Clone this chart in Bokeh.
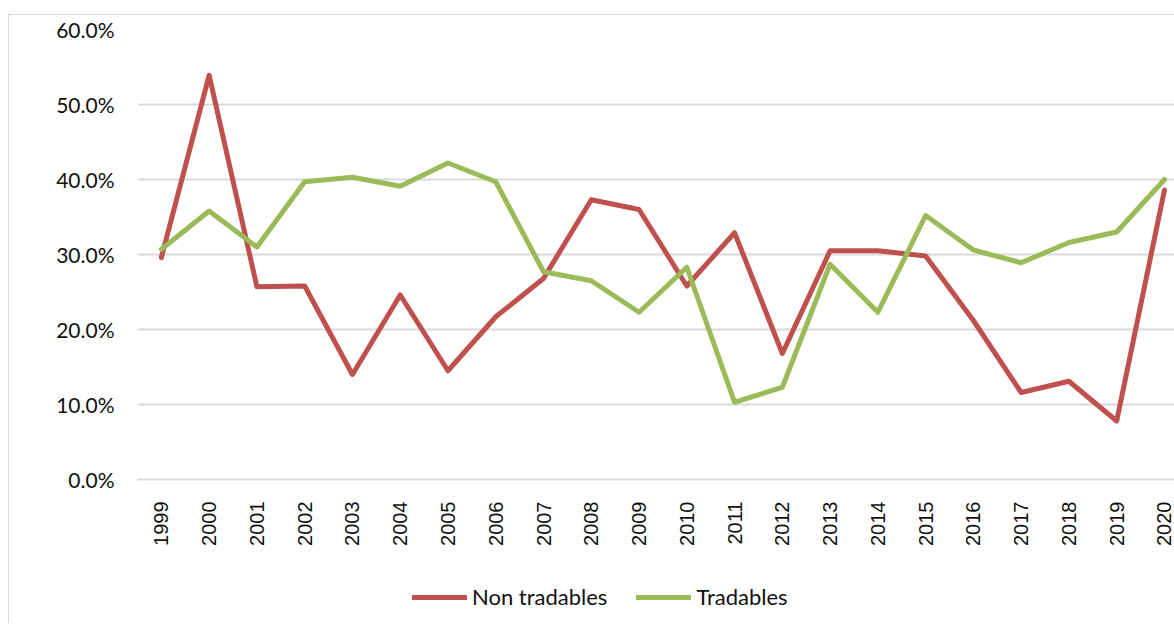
import math
from bokeh.plotting import figure
from bokeh.layouts import column
from bokeh.models import Range1d, FixedTicker, PrintfTickFormatter, Legend, LegendItem
from bokeh.embed import file_html
from bokeh.resources import INLINE

years = list(range(1999, 2021))
non_tradables = [29.6, 53.9, 25.7, 25.8, 14.0, 24.6, 14.5, 21.7, 26.8, 37.3, 36.0, 25.8,
                 32.9, 16.8, 30.5, 30.5, 29.8, 21.2, 11.6, 13.1, 7.8, 38.6]
tradables = [30.7, 35.8, 31.0, 39.7, 40.3, 39.1, 42.2, 39.7, 27.7, 26.5, 22.3, 28.3,
             10.3, 12.3, 28.7, 22.3, 35.2, 30.6, 28.9, 31.6, 33.0, 40.0]
y_ticks = [0, 10, 20, 30, 40, 50, 60]
series_names = ["Non tradables", "Tradables"]
colors = ["#C0504D", "#9BBB59"]

p = figure(width=1165, height=560, output_backend="svg", toolbar_location=None,
           x_range=Range1d(1998.5, 2020.21), y_range=Range1d(0, 60),
           min_border_left=128, min_border_right=0, min_border_top=14, min_border_bottom=96)
p.outline_line_color = None
p.background_fill_color = "white"
p.border_fill_color = "white"

p.line(years, non_tradables, line_color=colors[0], line_width=5,
       line_join="round", line_cap="round")
p.line(years, tradables, line_color=colors[1], line_width=5,
       line_join="round", line_cap="round")

p.xgrid.visible = False
p.ygrid.grid_line_color = "#d9d9d9"
p.ygrid.grid_line_width = 2
p.ygrid.ticker = FixedTicker(ticks=y_ticks)

p.yaxis.ticker = FixedTicker(ticks=y_ticks)
p.yaxis.formatter = PrintfTickFormatter(format="%.1f%%")
p.yaxis.axis_line_color = None
p.yaxis.major_tick_line_color = None
p.yaxis.minor_tick_line_color = None
p.yaxis.major_label_text_font = "Lato"
p.yaxis.major_label_text_font_size = "21px"
p.yaxis.major_label_text_color = "#111111"
p.yaxis.major_label_standoff = 17

p.xaxis.ticker = FixedTicker(ticks=years)
p.xaxis.axis_line_color = "#d9d9d9"
p.xaxis.axis_line_width = 2
p.xaxis.major_tick_line_color = None
p.xaxis.minor_tick_line_color = None
p.xaxis.major_label_orientation = math.pi / 2
p.xaxis.major_label_text_font = "Liberation Sans"
p.xaxis.major_label_text_font_size = "20px"
p.xaxis.major_label_text_color = "#111111"
p.xaxis.major_label_standoff = 16

# legend strip below the chart (its frame is aligned with the chart's frame)
lg = figure(width=1165, height=48, output_backend="svg", toolbar_location=None,
            x_axis_type=None, y_axis_type=None, min_border=0,
            x_range=Range1d(1998.5, 2020.21), y_range=Range1d(0, 60))
lg.outline_line_color = None
lg.grid.visible = False
lg.border_fill_color = "white"
k1 = lg.line(years, non_tradables, line_color=colors[0], line_width=5, line_cap="round")
k2 = lg.line(years, tradables, line_color=colors[1], line_width=5, line_cap="round")
k1.visible = False
k2.visible = False
legend = Legend(items=[LegendItem(label=series_names[0], renderers=[k1]),
                       LegendItem(label=series_names[1], renderers=[k2])],
                orientation="horizontal", location=(275, 13),
                glyph_width=55, glyph_height=20, label_height=20,
                label_standoff=5, spacing=29, padding=0, margin=0,
                border_line_color=None, background_fill_alpha=0,
                label_text_font="Lato", label_text_font_size="22px",
                label_text_color="#111111")
lg.add_layout(legend, "center")

layout = column(p, lg, spacing=0)
layout.styles = {"border-left": "1px solid #d9d9d9", "border-top": "1px solid #d9d9d9",
                 "margin-top": "14px", "margin-left": "8px"}

open("out.html", "w").write(file_html(layout, INLINE))
